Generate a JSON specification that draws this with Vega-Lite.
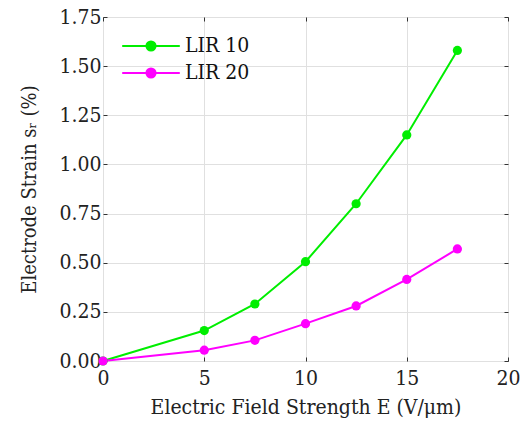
{
  "$schema": "https://vega.github.io/schema/vega-lite/v6.json",
  "width": 405,
  "height": 344,
  "autosize": {"type": "none"},
  "padding": {"left": 103, "top": 17, "right": 16, "bottom": 64},
  "background": "white",
  "config": {
    "font": "DejaVu Serif Condensed, DejaVu Serif",
    "view": {"stroke": "#555555", "strokeWidth": 1},
    "axis": {
      "labelFont": "DejaVu Serif Condensed, DejaVu Serif",
      "titleFont": "DejaVu Serif Condensed, DejaVu Serif",
      "labelFontSize": 21,
      "titleFontSize": 20,
      "labelColor": "#222222",
      "titleColor": "#222222",
      "titleFontWeight": "normal",
      "gridColor": "#e0e0e0",
      "gridWidth": 1,
      "domain": false,
      "ticks": true,
      "tickSize": -4,
      "tickColor": "#333333",
      "labelFlush": false
    },
    "legend": {"labelFont": "DejaVu Serif Condensed, DejaVu Serif", "labelFontSize": 21, "labelColor": "#111111"}
  },
  "data": {
    "values": [
      {"E": 0, "strain": 0.0, "series": "LIR 10"},
      {"E": 5, "strain": 0.155, "series": "LIR 10"},
      {"E": 7.5, "strain": 0.29, "series": "LIR 10"},
      {"E": 10, "strain": 0.505, "series": "LIR 10"},
      {"E": 12.5, "strain": 0.80, "series": "LIR 10"},
      {"E": 15, "strain": 1.15, "series": "LIR 10"},
      {"E": 17.5, "strain": 1.58, "series": "LIR 10"},
      {"E": 0, "strain": 0.0, "series": "LIR 20"},
      {"E": 5, "strain": 0.055, "series": "LIR 20"},
      {"E": 7.5, "strain": 0.105, "series": "LIR 20"},
      {"E": 10, "strain": 0.19, "series": "LIR 20"},
      {"E": 12.5, "strain": 0.28, "series": "LIR 20"},
      {"E": 15, "strain": 0.415, "series": "LIR 20"},
      {"E": 17.5, "strain": 0.57, "series": "LIR 20"}
    ]
  },
  "layer": [
    {
      "mark": {"type": "line", "opacity": 0},
      "encoding": {
        "x": {
          "field": "E", "type": "quantitative",
          "scale": {"domain": [0, 20], "nice": false},
          "axis": {"orient": "top", "values": [0, 5, 10, 15, 20], "labels": false, "grid": false, "title": null}
        },
        "y": {
          "field": "strain", "type": "quantitative",
          "scale": {"domain": [0, 1.75], "nice": false},
          "axis": {"orient": "right", "values": [0, 0.25, 0.5, 0.75, 1, 1.25, 1.5, 1.75], "labels": false, "grid": false, "title": null}
        },
        "detail": {"field": "series", "type": "nominal"}
      }
    },
    {
      "mark": {"type": "line", "strokeWidth": 2, "point": {"filled": true, "size": 85, "opacity": 1}},
      "encoding": {
        "x": {
          "field": "E", "type": "quantitative",
          "scale": {"domain": [0, 20], "nice": false},
          "axis": {"orient": "bottom", "grid": true, "values": [0, 5, 10, 15, 20], "labelFlush": false, "labelPadding": 10, "titlePadding": 8, "titleFontSize": 21, "title": "Electric Field Strength E (V/μm)"}
        },
        "y": {
          "field": "strain", "type": "quantitative",
          "scale": {"domain": [0, 1.75], "nice": false},
          "axis": {"orient": "left", "grid": true, "values": [0, 0.25, 0.5, 0.75, 1, 1.25, 1.5, 1.75], "format": ".2f", "labelPadding": 6, "titlePadding": 19, "titleFontSize": 20, "title": "Electrode Strain sᵣ (%)"}
        },
        "color": {
          "field": "series", "type": "nominal",
          "scale": {"domain": ["LIR 10", "LIR 20"], "range": ["#00ee00", "#ff00ff"]},
          "legend": {
            "title": null,
            "orient": "none",
            "legendX": 35,
            "legendY": 16,
            "symbolType": "M-2.4,0L2.4,0M-0.38,0a0.38,0.38 0 1,0 0.76,0a0.38,0.38 0 1,0 -0.76,0",
            "symbolSize": 576,
            "symbolStrokeWidth": 2,
            "labelOffset": 21,
            "rowPadding": 4,
            "symbolOpacity": 1
          }
        }
      }
    }
  ],
  "resolve": {"axis": {"x": "independent", "y": "independent"}}
}
